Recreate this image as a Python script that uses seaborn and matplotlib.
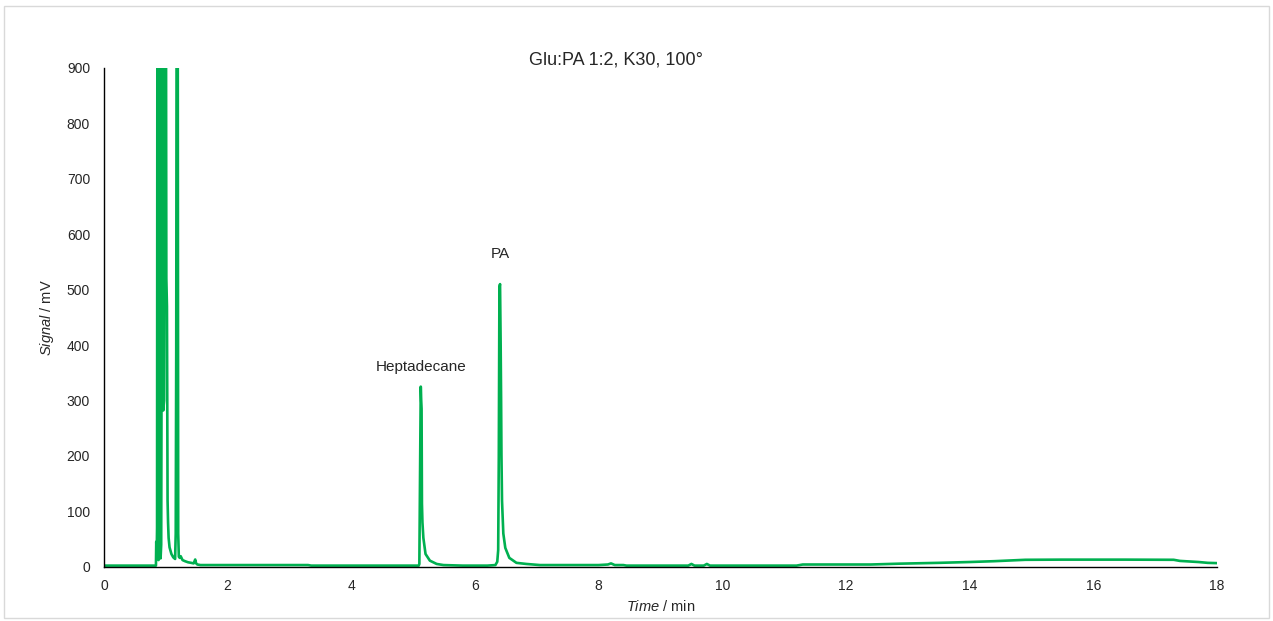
import matplotlib
matplotlib.use("Agg")
import matplotlib.pyplot as plt
from matplotlib.patches import Rectangle
import pandas as pd
import seaborn as sns

# Chromatogram trace: retention time (min) and detector signal (mV)
time_min = [
    0.00, 0.40, 0.84,
    0.845, 0.852, 0.858, 0.866, 0.874, 0.882, 0.888, 0.897, 0.906,
    0.915, 0.925, 0.935, 0.946, 0.958, 0.972, 0.985, 0.995, 1.008,
    1.018, 1.028, 1.036, 1.045, 1.060, 1.090, 1.120, 1.150, 1.160,
    1.168, 1.178, 1.190, 1.200, 1.210, 1.225, 1.240, 1.270, 1.310,
    1.360, 1.410, 1.450, 1.475, 1.490, 1.510, 1.560, 1.700,
    2.20, 2.80, 3.30, 3.35, 4.20, 5.00, 5.090,
    5.100, 5.110, 5.116, 5.123, 5.130, 5.136, 5.142, 5.150, 5.165,
    5.200, 5.270, 5.380, 5.490, 5.800,
    6.20, 6.330, 6.360, 6.375, 6.385, 6.395, 6.405, 6.415, 6.422,
    6.428, 6.437, 6.458, 6.490, 6.555, 6.670, 6.830, 7.050,
    7.60, 8.00, 8.15, 8.20, 8.26, 8.40, 8.45, 9.00, 9.45, 9.50,
    9.55, 9.70, 9.75, 9.80, 10.40, 11.20, 11.30, 11.80, 12.40,
    12.86, 13.50, 14.00, 14.40, 14.90, 15.50, 16.50, 17.30, 17.40,
    17.70, 17.85, 18.00,
]
signal_mv = [
    2, 2, 2,
    45, 20, 70, 1600, 60, 12, 30, 1500, 80,
    15, 40, 600, 1800, 282, 300, 900, 1700, 520,
    470, 120, 80, 52, 35, 23, 17, 14, 60,
    390, 1400, 1300, 60, 18, 16, 19, 12, 10,
    8, 7, 6, 13, 6, 4, 3, 3,
    3, 3, 3, 2, 2, 2, 2,
    5, 150, 233, 325, 300, 285, 114, 80, 52,
    23, 11, 5, 3, 2,
    2, 3, 9, 30, 200, 505, 510, 400, 305,
    200, 119, 60, 34, 16, 7, 5, 3,
    3, 3, 4, 6, 3, 3, 2, 2, 2, 5,
    2, 2, 5, 2, 2, 2, 4, 4, 4,
    5.5, 7, 8.5, 10, 12.5, 12.8, 12.8, 12.5, 10.5,
    8.5, 7, 6.5,
]

x_ticks = list(range(0, 19, 2))
y_ticks = list(range(0, 901, 100))
peak_labels = ["Heptadecane", "PA"]
peak_times = [5.127, 6.415]
label_heights = [348, 552]

df = pd.DataFrame({"Time": time_min, "Signal": signal_mv})

sns.set_theme(style="white")
plt.rcParams["font.family"] = ["Liberation Sans", "DejaVu Sans"]
plt.rcParams["mathtext.fontset"] = "custom"
plt.rcParams["mathtext.rm"] = "Liberation Sans"
plt.rcParams["mathtext.it"] = "Liberation Sans:italic"

fig = plt.figure(figsize=(12.73, 6.21), dpi=100)
ax = fig.add_axes([0.0817, 0.0874, 0.8743, 0.8031])

sns.lineplot(data=df, x="Time", y="Signal", ax=ax, color="#00B050",
             linewidth=1.9, estimator=None, sort=False)

ax.set_xlim(0, 18)
ax.set_ylim(0, 900)
ax.set_xticks(x_ticks)
ax.set_yticks(y_ticks)
ax.tick_params(axis="both", length=0, labelsize=10, colors="#262626")
ax.tick_params(axis="y", pad=10)
ax.tick_params(axis="x", pad=9)

for side in ["top", "right"]:
    ax.spines[side].set_visible(False)
for side in ["left", "bottom"]:
    ax.spines[side].set_color("black")
    ax.spines[side].set_linewidth(1.0)

ax.set_xlabel(r"$\it{Time}$ / min", fontsize=10.5, color="#262626", labelpad=4)
ax.set_ylabel(r"$\it{Signal}$ / mV", fontsize=10.5, color="#262626", labelpad=8)

for name, t, h in zip(peak_labels, peak_times, label_heights):
    ax.text(t, h, name, ha="center", va="bottom", fontsize=11, color="#262626")

fig.text(616 / 1273, 1 - 60 / 621, "Glu:PA 1:2, K30, 100°",
         ha="center", va="center", fontsize=13,
         family=["Liberation Sans Narrow", "Liberation Sans"], color="#262626")

# thin frame around the chart area
fig.patches.append(Rectangle((4 / 1273, 3 / 621), 1265 / 1273, 612 / 621,
                             transform=fig.transFigure, fill=False,
                             edgecolor="#D9D9D9", linewidth=1.0))

fig.savefig("out.png", dpi=100, facecolor="white")
